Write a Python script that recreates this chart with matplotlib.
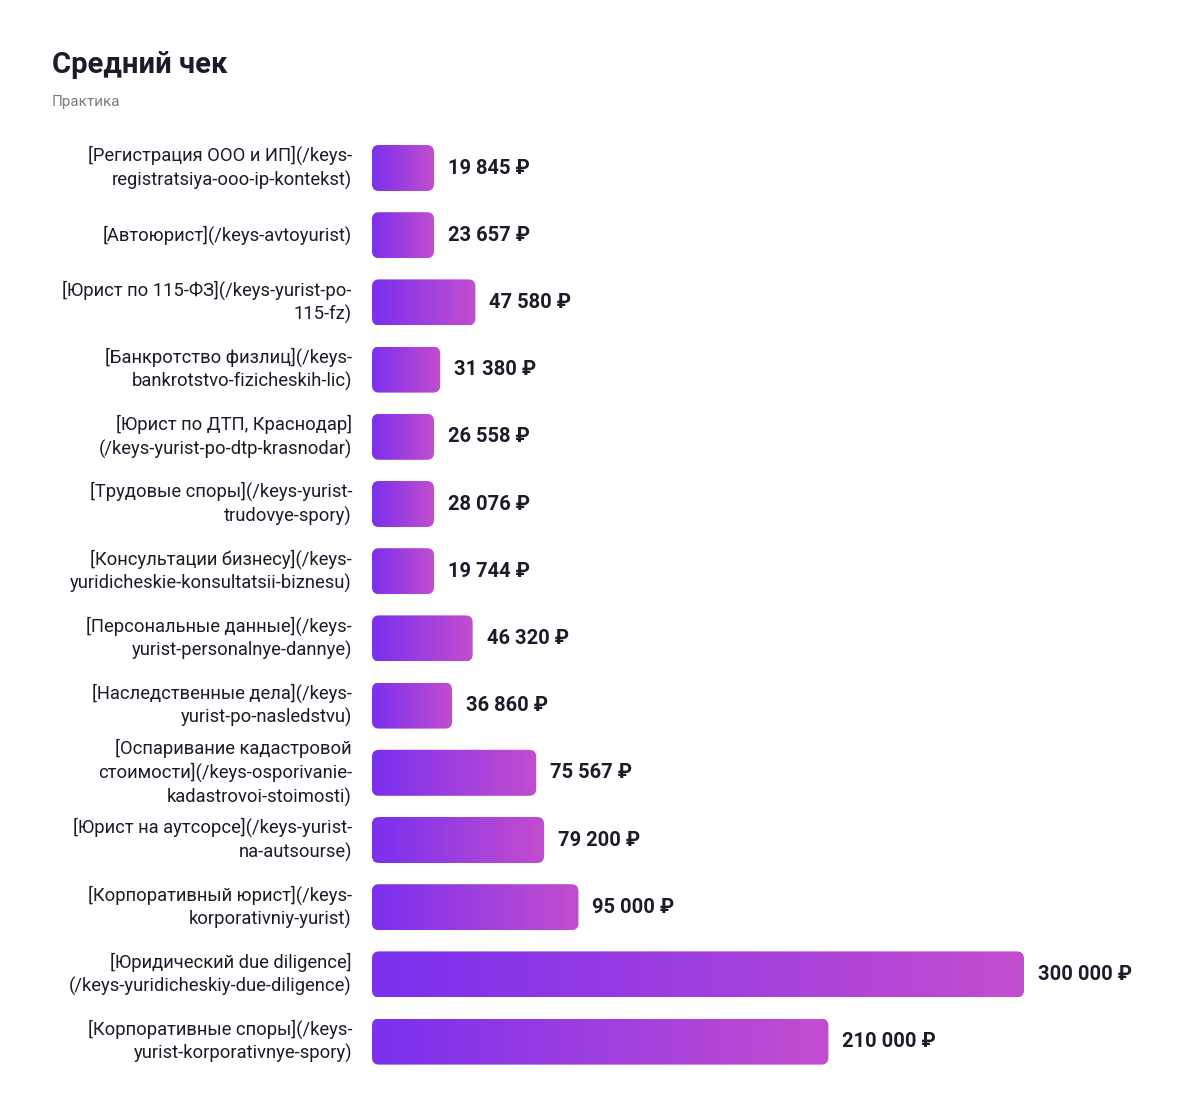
import matplotlib
matplotlib.use("Agg")
import matplotlib.pyplot as plt
import numpy as np
from matplotlib.patches import FancyBboxPatch
from matplotlib.colors import LinearSegmentedColormap

plt.rcParams['font.family'] = ['Roboto', 'DejaVu Sans']

categories = [
    "[Регистрация ООО и ИП](/keys-\nregistratsiya-ooo-ip-kontekst)",
    "[Автоюрист](/keys-avtoyurist)",
    "[Юрист по 115-ФЗ](/keys-yurist-po-\n115-fz)",
    "[Банкротство физлиц](/keys-\nbankrotstvo-fizicheskih-lic)",
    "[Юрист по ДТП, Краснодар]\n(/keys-yurist-po-dtp-krasnodar)",
    "[Трудовые споры](/keys-yurist-\ntrudovye-spory)",
    "[Консультации бизнесу](/keys-\nyuridicheskie-konsultatsii-biznesu)",
    "[Персональные данные](/keys-\nyurist-personalnye-dannye)",
    "[Наследственные дела](/keys-\nyurist-po-nasledstvu)",
    "[Оспаривание кадастровой\nстоимости](/keys-osporivanie-\nkadastrovoi-stoimosti)",
    "[Юрист на аутсорсе](/keys-yurist-\nna-autsourse)",
    "[Корпоративный юрист](/keys-\nkorporativniy-yurist)",
    "[Юридический due diligence]\n(/keys-yuridicheskiy-due-diligence)",
    "[Корпоративные споры](/keys-\nyurist-korporativnye-spory)",
]
values = [19845, 23657, 47580, 31380, 26558, 28076, 19744, 46320, 36860,
          75567, 79200, 95000, 300000, 210000]

W, H = 1200, 1096
fig = plt.figure(figsize=(W/100, H/100), dpi=100)
xmax = 300000
n = len(values)
row_px = 67.2
left_px, right_px = 372, 1024
top_px = 168 - row_px/2
bot_px = top_px + row_px*n
ax = fig.add_axes([left_px/W, 1 - bot_px/H, (right_px-left_px)/W, (bot_px-top_px)/H])
ax.set_xlim(0, xmax)
ax.set_ylim(n-0.5, -0.5)
ax.axis('off')

xu_per_px = xmax/(right_px-left_px)
yu_per_px = 1/row_px
min_w = 62*xu_per_px
bh = 46/row_px
cmap = LinearSegmentedColormap.from_list('g', ['#7a30ee', '#c34dcf'])
grad = np.linspace(0, 1, 256)[None, :]
for i, v in enumerate(values):
    w = max(v, min_w)
    p = FancyBboxPatch((0, i-bh/2), w, bh, boxstyle=f"round,pad=0,rounding_size={7*xu_per_px}",
                       mutation_aspect=yu_per_px/xu_per_px, facecolor='none', edgecolor='none')
    ax.add_patch(p)
    im = ax.imshow(grad, cmap=cmap, extent=[0, w, i+bh/2, i-bh/2], aspect='auto', zorder=2)
    im.set_clip_path(p)
    ax.text(w + 14*xu_per_px, i, f"{v:,}".replace(",", " ") + " ₽", va='center', ha='left',
            fontsize=14.5, fontweight='bold', color='#1c1b29')
    ax.text(-20*xu_per_px, i, categories[i], va='center', ha='right', fontsize=13.2,
            color='#1c1b29', linespacing=1.35, clip_on=False)

fig.text(52/W, 1-65/H, "Средний чек", fontsize=21, fontweight='bold', color='#1c1b29', va='center')
fig.text(52/W, 1-102/H, "Практика", fontsize=11, color='#7a7a85', va='center')
fig.savefig("out.png", dpi=100, facecolor='white')
